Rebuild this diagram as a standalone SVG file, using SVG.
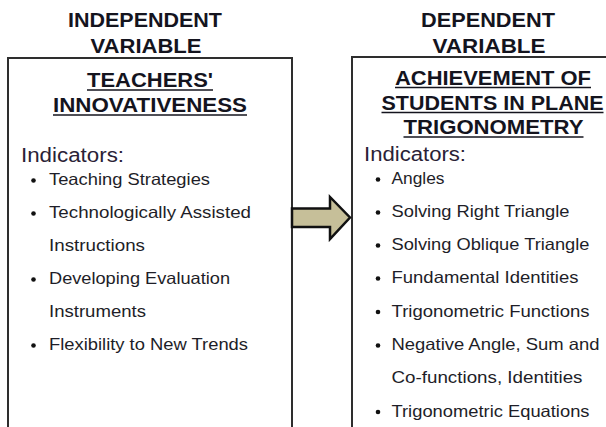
<svg xmlns="http://www.w3.org/2000/svg" width="606" height="427" viewBox="0 0 606 427">
  <style>
    .hdr { font-family: "Liberation Sans", Arial, sans-serif; font-weight: bold; font-size: 20px; fill: #14141e; text-anchor: middle; }
    .ttl { font-family: "Liberation Sans", Arial, sans-serif; font-weight: bold; font-size: 20px; fill: #14141e; text-anchor: middle; }
    .ul { stroke: #14141e; stroke-width: 1.6; }
    .ind { font-family: "Liberation Sans", Arial, sans-serif; font-size: 20px; fill: #2a2236; }
    .item { font-family: "Liberation Sans", Arial, sans-serif; font-size: 16.5px; fill: #1e1e28; }
    .dot { fill: #111; }
    .box { fill: #fff; stroke: #2e2e2e; stroke-width: 2; }
    .arrow { fill: #c6bf99; stroke: #111; stroke-width: 2.5; stroke-linejoin: miter; }
  </style>

  <rect width="606" height="427" fill="#fff"/>

  <!-- column headings -->
  <text class="hdr" x="145" y="27" textLength="154" lengthAdjust="spacingAndGlyphs">INDEPENDENT</text>
  <text class="hdr" x="146" y="53" textLength="111" lengthAdjust="spacingAndGlyphs">VARIABLE</text>
  <text class="hdr" x="488" y="27" textLength="134" lengthAdjust="spacingAndGlyphs">DEPENDENT</text>
  <text class="hdr" x="489" y="53" textLength="113" lengthAdjust="spacingAndGlyphs">VARIABLE</text>

  <!-- independent variable box -->
  <g id="teachers-innovativeness">
    <rect class="box" x="8" y="58" width="284" height="380"/>
    <text class="ttl" x="150" y="87" textLength="126" lengthAdjust="spacingAndGlyphs">TEACHERS'</text>
    <line class="ul" x1="87" y1="90" x2="213" y2="90"/>
    <text class="ttl" x="150" y="111.5" textLength="194" lengthAdjust="spacingAndGlyphs">INNOVATIVENESS</text>
    <line class="ul" x1="53" y1="115" x2="247" y2="115"/>
    <text class="ind" x="21" y="162" textLength="103" lengthAdjust="spacingAndGlyphs">Indicators:</text>
    <circle class="dot" cx="33.5" cy="180.5" r="2.3"/>
    <text class="item" x="49" y="185" textLength="161" lengthAdjust="spacingAndGlyphs">Teaching Strategies</text>
    <circle class="dot" cx="33.5" cy="213.5" r="2.3"/>
    <text class="item" x="49" y="218" textLength="202" lengthAdjust="spacingAndGlyphs">Technologically Assisted</text>
    <text class="item" x="49" y="251" textLength="96" lengthAdjust="spacingAndGlyphs">Instructions</text>
    <circle class="dot" cx="33.5" cy="279.5" r="2.3"/>
    <text class="item" x="49" y="284" textLength="181" lengthAdjust="spacingAndGlyphs">Developing Evaluation</text>
    <text class="item" x="49" y="317" textLength="97" lengthAdjust="spacingAndGlyphs">Instruments</text>
    <circle class="dot" cx="33.5" cy="345.5" r="2.3"/>
    <text class="item" x="49" y="350" textLength="199" lengthAdjust="spacingAndGlyphs">Flexibility to New Trends</text>
  </g>

  <!-- dependent variable box -->
  <g id="student-achievement">
    <rect class="box" x="352" y="57" width="270" height="380"/>
    <text class="ttl" x="493" y="85" textLength="196" lengthAdjust="spacingAndGlyphs">ACHIEVEMENT OF</text>
    <line class="ul" x1="395" y1="87.5" x2="591" y2="87.5"/>
    <text class="ttl" x="492.5" y="109.5" textLength="222" lengthAdjust="spacingAndGlyphs">STUDENTS IN PLANE</text>
    <line class="ul" x1="381.5" y1="112.5" x2="603.5" y2="112.5"/>
    <text class="ttl" x="493.5" y="134" textLength="180" lengthAdjust="spacingAndGlyphs">TRIGONOMETRY</text>
    <line class="ul" x1="403.5" y1="137" x2="583.5" y2="137"/>
    <text class="ind" x="364" y="160.5" textLength="102" lengthAdjust="spacingAndGlyphs">Indicators:</text>
    <circle class="dot" cx="378" cy="179.5" r="2.3"/>
    <text class="item" x="391.5" y="184" textLength="53" lengthAdjust="spacingAndGlyphs">Angles</text>
    <circle class="dot" cx="378" cy="212.5" r="2.3"/>
    <text class="item" x="391.5" y="217" textLength="178" lengthAdjust="spacingAndGlyphs">Solving Right Triangle</text>
    <circle class="dot" cx="378" cy="245.5" r="2.3"/>
    <text class="item" x="391.5" y="250" textLength="198" lengthAdjust="spacingAndGlyphs">Solving Oblique  Triangle</text>
    <circle class="dot" cx="378" cy="278.5" r="2.3"/>
    <text class="item" x="391.5" y="283" textLength="187" lengthAdjust="spacingAndGlyphs">Fundamental Identities</text>
    <circle class="dot" cx="378" cy="312" r="2.3"/>
    <text class="item" x="391.5" y="316.5" textLength="198" lengthAdjust="spacingAndGlyphs">Trigonometric Functions</text>
    <circle class="dot" cx="378" cy="345.5" r="2.3"/>
    <text class="item" x="391.5" y="350" textLength="208" lengthAdjust="spacingAndGlyphs">Negative Angle, Sum and</text>
    <text class="item" x="391.5" y="383" textLength="191" lengthAdjust="spacingAndGlyphs">Co-functions, Identities</text>
    <circle class="dot" cx="378" cy="412" r="2.3"/>
    <text class="item" x="391.5" y="416.5" textLength="198" lengthAdjust="spacingAndGlyphs">Trigonometric Equations</text>
  </g>

  <!-- connector -->
  <g id="connectors">
    <polygon class="arrow" points="292,208.5 330,208.5 330,197 350,217.5 330,239 330,227 292,227"/>
  </g>
</svg>
